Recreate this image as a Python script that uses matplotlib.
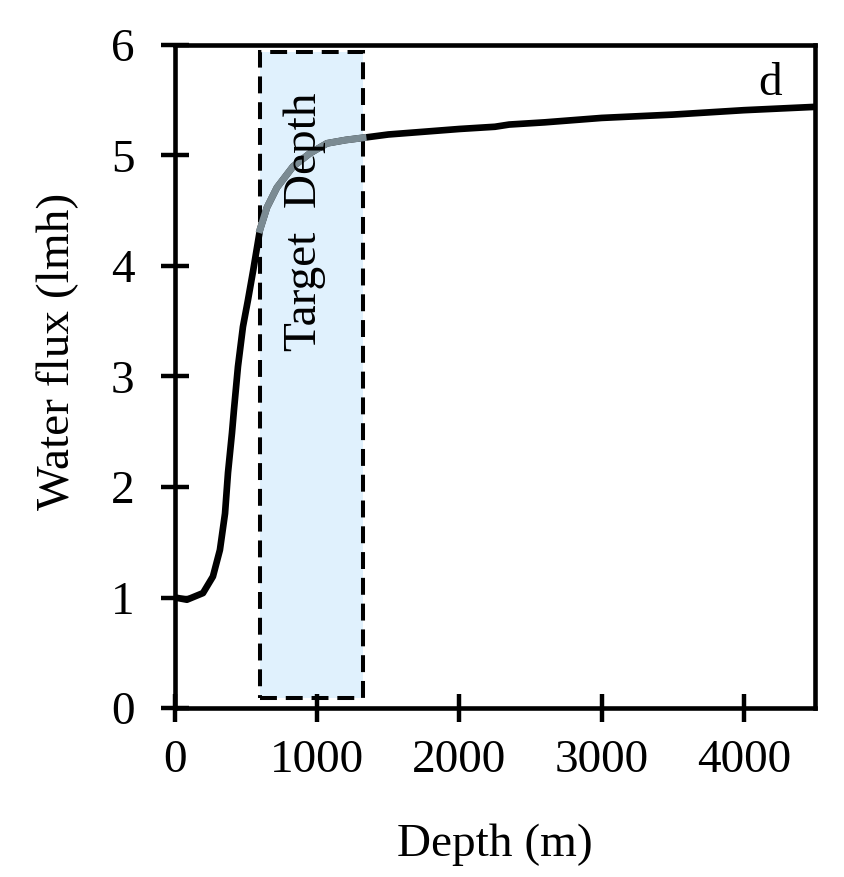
import matplotlib
matplotlib.use("Agg")
import matplotlib.pyplot as plt
from matplotlib.patches import Rectangle

plt.rcParams['font.family'] = ['Liberation Serif', 'DejaVu Serif']

# curve (depth in m, flux in lmh)
depth = [0, 84, 197, 267, 316, 352, 373, 401, 415, 443, 478, 513, 550, 598, 647, 717,
         830, 949, 1069, 1200, 1322, 1500, 1800, 2000, 2250, 2350, 2600, 3000, 3500,
         4000, 4500]
flux = [1.0, 0.98, 1.04, 1.19, 1.43, 1.76, 2.13, 2.49, 2.70, 3.09, 3.45, 3.69, 3.96,
        4.33, 4.53, 4.71, 4.90, 5.02, 5.11, 5.14, 5.16, 5.19, 5.22, 5.24, 5.26, 5.28,
        5.30, 5.34, 5.37, 5.41, 5.44]
target_lo, target_hi = 598, 1322
box_bottom, box_top = 0.09, 5.94

FS = 34

fig = plt.figure(figsize=(8.44, 8.77), dpi=100)
ax = fig.add_axes([0.2073, 0.1927, 0.7583, 0.756])

box = Rectangle((target_lo, box_bottom), target_hi - target_lo, box_top - box_bottom,
                facecolor='#e0f1fd', edgecolor='black', linestyle=(0, (4.2, 2.2)),
                linewidth=2.9, zorder=1)
ax.add_patch(box)

ax.plot(depth, flux, color='black', linewidth=4.8, zorder=2)
# part of the curve inside the target window is drawn grey
in_d = [d for d in depth if target_lo <= d <= target_hi]
in_f = [f for d, f in zip(depth, flux) if target_lo <= d <= target_hi]
ax.plot(in_d, in_f, color='#7b8b93', linewidth=5.0, zorder=3)

ax.text(914, 4.40, 'Target  Depth', rotation=90, ha='center', va='center', fontsize=FS, zorder=4)
ax.text(4184, 5.55, 'd', ha='center', va='baseline', fontsize=FS)

ax.set_xlim(0, 4500)
ax.set_ylim(0, 6)
ax.set_xticks([0, 1000, 2000, 3000, 4000])
ax.set_yticks([0, 1, 2, 3, 4, 5, 6])
ax.tick_params(direction='inout', length=20, width=3.2, labelsize=FS)
ax.tick_params(axis='x', pad=13)
ax.tick_params(axis='y', pad=19)
for s in ax.spines.values():
    s.set_linewidth(3.3)

ax.set_xlabel('Depth (m)', fontsize=FS)
ax.set_ylabel('Water flux (lmh)', fontsize=FS)
ax.xaxis.set_label_coords(0.5, -0.2066)
ax.xaxis.label.set_va('center')
ax.yaxis.set_label_coords(-0.184, 0.538)
ax.yaxis.label.set_va('center')

fig.savefig('out.png', dpi=100)
